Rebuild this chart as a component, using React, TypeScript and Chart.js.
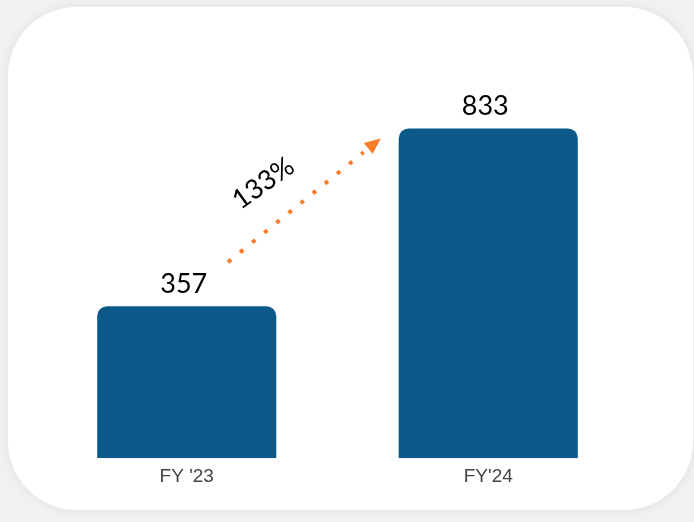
import React, { useEffect, useRef } from 'react';
import { Chart, registerables } from 'chart.js';

Chart.register(...registerables);

const categories = ["FY '23", "FY'24"];
const values = [357, 833];
const axisMin = -50;
const axisMax = 1000;

const BAR_COLOR = '#0b5989';
const ORANGE = '#fa7b2a';

export default function App() {
  const ref = useRef<HTMLCanvasElement>(null);

  useEffect(() => {
    document.body.style.margin = '0';
    const overlay = {
      id: 'overlay',
      afterDatasetsDraw(chart: any) {
        const ctx = chart.ctx as CanvasRenderingContext2D;
        const meta = chart.getDatasetMeta(0);
        const bars = meta.data as any[];
        const b1 = bars[0];
        const b2 = bars[1];
        ctx.save();
        // value labels
        ctx.font = '27px Lato';
        ctx.fillStyle = '#000';
        ctx.textAlign = 'center';
        ctx.textBaseline = 'alphabetic';
        bars.forEach((el, i) => {
          ctx.fillText(String(values[i]), el.x - 3, el.y - 13);
        });
        // arrow
        const sx = b1.x + b1.width * 0.23;
        const sy = b1.y - 44;
        const ex = b2.x - b2.width / 2 - 18;
        const ey = b2.y + 10;
        const dx = ex - sx;
        const dy = ey - sy;
        const len = Math.hypot(dx, dy);
        const ux = dx / len;
        const uy = dy / len;
        const headLen = 16;
        const headHalf = 7;
        ctx.strokeStyle = ORANGE;
        ctx.lineWidth = 4;
        ctx.lineCap = 'butt';
        ctx.setLineDash([4, 11.6]);
        ctx.beginPath();
        ctx.moveTo(sx, sy);
        ctx.lineTo(ex - ux * (headLen + 6), ey - uy * (headLen + 6));
        ctx.stroke();
        ctx.setLineDash([]);
        ctx.fillStyle = ORANGE;
        const bx = ex - ux * headLen;
        const by = ey - uy * headLen;
        ctx.beginPath();
        ctx.moveTo(ex, ey);
        ctx.lineTo(bx - uy * headHalf, by + ux * headHalf);
        ctx.lineTo(bx + uy * headHalf, by - ux * headHalf);
        ctx.closePath();
        ctx.fill();
        // growth label
        const pct = Math.round(((values[1] - values[0]) / values[0]) * 100);
        const mx = (sx + ex) / 2;
        const my = (sy + ey) / 2;
        const px = uy;
        const py = -ux;
        const tx = mx - 21 * ux + 39 * px;
        const ty = my - 21 * uy + 39 * py;
        ctx.translate(tx, ty);
        ctx.rotate(Math.atan2(dy, dx) + 0.06);
        ctx.font = '27px Lato';
        ctx.fillStyle = '#000';
        ctx.textAlign = 'center';
        ctx.textBaseline = 'middle';
        ctx.fillText(pct + '%', 0, 0);
        ctx.restore();
      },
    };

    const chart = new Chart(ref.current!, {
      type: 'bar',
      data: {
        labels: categories,
        datasets: [
          {
            data: values,
            backgroundColor: BAR_COLOR,
            borderRadius: 10,
            borderSkipped: 'bottom',
            base: axisMin,
            categoryPercentage: 1,
            barPercentage: 0.594,
          } as any,
        ],
      },
      options: {
        responsive: false,
        animation: false,
        layout: { padding: { left: 36, right: 55, top: 66, bottom: 27 } },
        plugins: { legend: { display: false }, tooltip: { enabled: false } },
        scales: {
          x: {
            grid: { display: false, drawTicks: false },
            border: { display: false },
            ticks: {
              color: '#444',
              font: { family: 'Liberation Sans, Arial, sans-serif', size: 19 },
              padding: 7,
            },
          },
          y: { display: false, min: axisMin, max: axisMax },
        },
      },
      plugins: [overlay],
    });
    return () => chart.destroy();
  }, []);

  return (
    <div style={{ position: 'fixed', left: 0, top: 0, width: 694, height: 522, background: '#f1f1f1', overflow: 'hidden' }}>
      <div
        style={{
          position: 'absolute',
          left: 7,
          top: 6,
          width: 687,
          height: 505,
          borderRadius: 70,
          background: '#ffffff',
          boxShadow: '0 0 8px rgba(0,0,0,0.07)',
          border: '1px solid #ececec',
          boxSizing: 'border-box',
        }}
      />
      <canvas ref={ref} width={694} height={522} style={{ position: 'absolute', left: 0, top: 0 }} />
    </div>
  );
}
